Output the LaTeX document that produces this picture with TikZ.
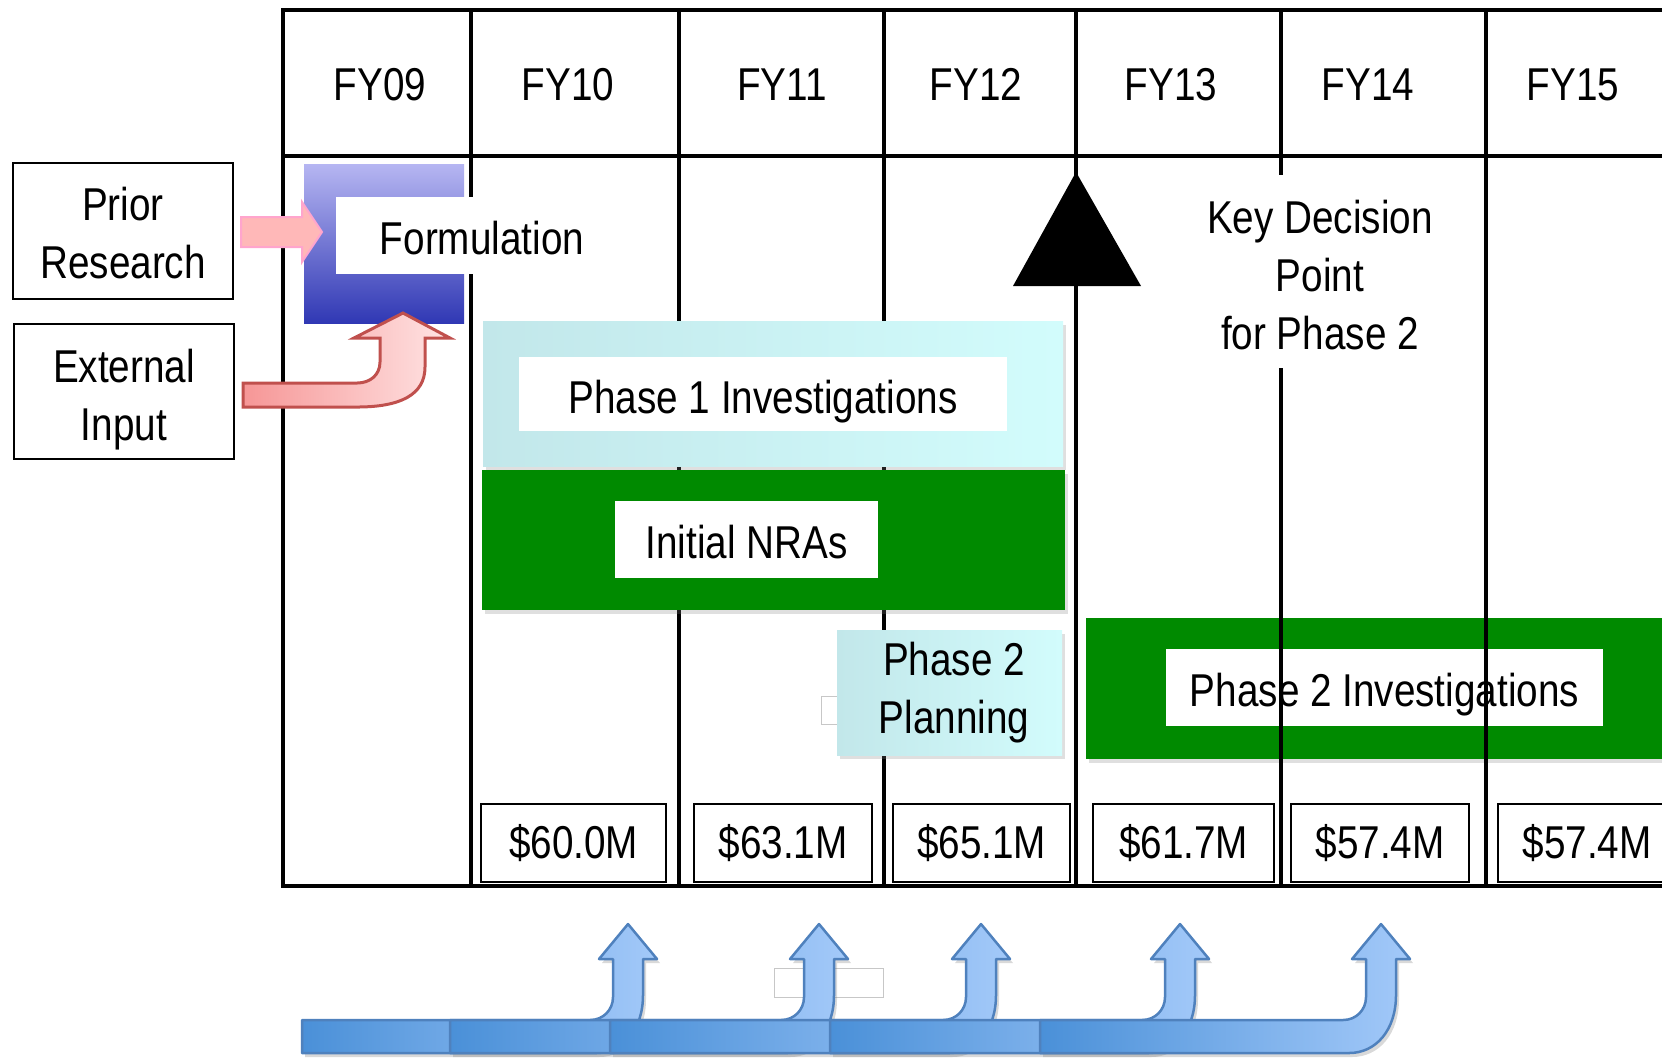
\documentclass[tikz,border=0pt]{standalone}
\usepackage{fontspec}
\setmainfont{Liberation Sans}[FakeStretch=0.84]
\usepackage{tikz}
\usetikzlibrary{shadows}
\definecolor{barGreen}{RGB}{0,138,0}
\definecolor{aquaLeft}{RGB}{194,231,234}
\definecolor{aquaRight}{RGB}{210,252,252}
\definecolor{formTop}{RGB}{182,182,242}
\definecolor{formBottom}{RGB}{48,56,180}
\definecolor{pinkFill}{RGB}{255,184,184}
\definecolor{pinkLine}{RGB}{255,165,205}
\definecolor{salmonLeft}{RGB}{246,150,150}
\definecolor{salmonRight}{RGB}{255,228,228}
\definecolor{salmonLine}{RGB}{192,80,77}
\definecolor{flowDark}{RGB}{74,144,216}
\definecolor{flowLight}{RGB}{163,201,249}
\definecolor{flowLine}{RGB}{79,129,189}

\begin{document}
\begin{tikzpicture}[x=0.1mm, y=-0.1mm,
	every node/.style={font=\fontsize{13.1}{16.5}\selectfont, inner sep=0pt, outer sep=0pt},
	gridline/.style={line width=0.42mm},
	srcbox/.style={draw, line width=0.28mm, align=center, minimum width=22mm, minimum height=13.5mm},
	fundbox/.style={draw, fill=white, line width=0.25mm, minimum height=7.8mm},
	whitelbl/.style={fill=white, minimum height=7.7mm, text height=3.8mm, text depth=0mm},
	greenbar/.style={fill=barGreen, drop shadow={opacity=0.25, shadow xshift=0.3mm, shadow yshift=-0.4mm}},
	aquabox/.style={left color=aquaLeft, right color=aquaRight, drop shadow={opacity=0.25, shadow xshift=0.3mm, shadow yshift=-0.4mm}},
	ghostbox/.style={draw=black!22, line width=0.1mm},
	flowarrow/.style={left color=flowDark, right color=flowLight, draw=flowLine, line width=0.25mm, line join=round,
		drop shadow={opacity=0.3, shadow xshift=0.3mm, shadow yshift=-0.4mm}}]
	\useasboundingbox (0,0) rectangle (1662,1057);

	% phase 2 bar (behind the grid)
	\node[greenbar, minimum width=57.6mm, minimum height=14.1mm] (p2bar) at (1374,688.5) {};
	\node[whitelbl, minimum width=43.7mm] (p2lbl) at (1384.5,687.5) {Phase 2 Investigations};

	% grid
	\foreach \gx in {471,679,884,1076,1281,1486}
		\draw[gridline] (\gx,10) -- (\gx,886);
	\draw[gridline] (1662,10) -- (283,10) -- (283,886) -- (1662,886);
	\draw[gridline] (283,156) -- (1662,156);

	% formulation
	\node[top color=formTop, bottom color=formBottom, minimum width=16mm, minimum height=15.9mm] (formsq) at (384,243.5) {};
	\filldraw[fill=pinkFill, draw=pinkLine, line width=0.2mm] (241,217) -- (302,217) -- (302,202) -- (322,232) -- (302,262) -- (302,247) -- (241,247) -- cycle;
	\filldraw[left color=salmonLeft, right color=salmonRight, draw=salmonLine, line width=0.3mm] (243,383) -- (357,383) .. controls (370,383) and (380,375) .. (380,362) -- (380,338) -- (354,338) -- (403,313) -- (450,338) -- (425,338) -- (425,367) .. controls (425,395) and (400,407) .. (357,407) -- (243,407) -- cycle;
	\node[whitelbl, minimum width=29.2mm] (form) at (482,235.5) {Formulation};

	% phase 1
	\node[aquabox, minimum width=58mm, minimum height=14.5mm] (p1bar) at (773,393.5) {};
	\node[whitelbl, minimum width=48.8mm, minimum height=7.4mm] (p1lbl) at (763,394) {Phase 1 Investigations};
	\node[greenbar, minimum width=58.3mm, minimum height=14mm] (nrabar) at (773.5,540) {};
	\node[whitelbl, minimum width=26.3mm] (nralbl) at (746.5,539.5) {Initial NRAs};

	% phase 2 planning
	\draw[ghostbox] (821,696) rectangle (900,724);
	\node[aquabox, align=center, minimum width=22.5mm, minimum height=12.5mm] (p2plan) at (949.5,692.5) {\hspace*{0.9mm}Phase 2\\\hspace*{0.9mm}Planning};

	% key decision point
	\fill (1076,172) -- (1141,286) -- (1013,286) -- cycle;
	\node[fill=white, align=center, minimum width=25mm, minimum height=19.3mm] (kdp) at (1320,271.5) {\rule{0pt}{4.0mm}Key Decision\\Point\\for Phase 2};

	% funding
	\foreach \mx/\mw/\amt/\nm in {573.5/18.5/60.0/fund10, 783/17.8/63.1/fund11, 981.5/17.7/65.1/fund12, 1183.5/18.1/61.7/fund13, 1380/17.8/57.4/fund14, 1587/17.8/57.4/fund15}
		\node[fundbox, minimum width=\mw mm] (\nm) at (\mx,843) {\$\amt M};

	% years
	\foreach \hx/\yr in {380/09, 568/10, 782/11, 976/12, 1171/13, 1368/14, 1573/15}
		\node[anchor=base] (fy\yr) at (\hx,100) {FY\yr};

	% inputs
	\node[srcbox, minimum height=13.6mm] (prior) at (123,231) {\rule{0pt}{3.8mm}Prior\\Research};
	\node[srcbox] (ext) at (124,391.5) {\rule{0pt}{4.9mm}External\\Input};

	% flow arrows
	\draw[ghostbox] (774,968) rectangle (883,997);
	\foreach \s/\t in {302/628, 450/819, 610/981, 830/1180, 1040/1381}
		\path[flowarrow] (\s,1020) -- (\t-38,1020) .. controls (\t-25,1020) and (\t-15,1010) .. (\t-15,997) -- (\t-15,959) -- (\t-29,959) -- (\t,924) -- (\t+29,959) -- (\t+15,959) -- (\t+15,995) .. controls (\t+15,1030) and (\t-5,1053) .. (\t-32,1053) -- (\s,1053) -- cycle;
\end{tikzpicture}
\end{document}
